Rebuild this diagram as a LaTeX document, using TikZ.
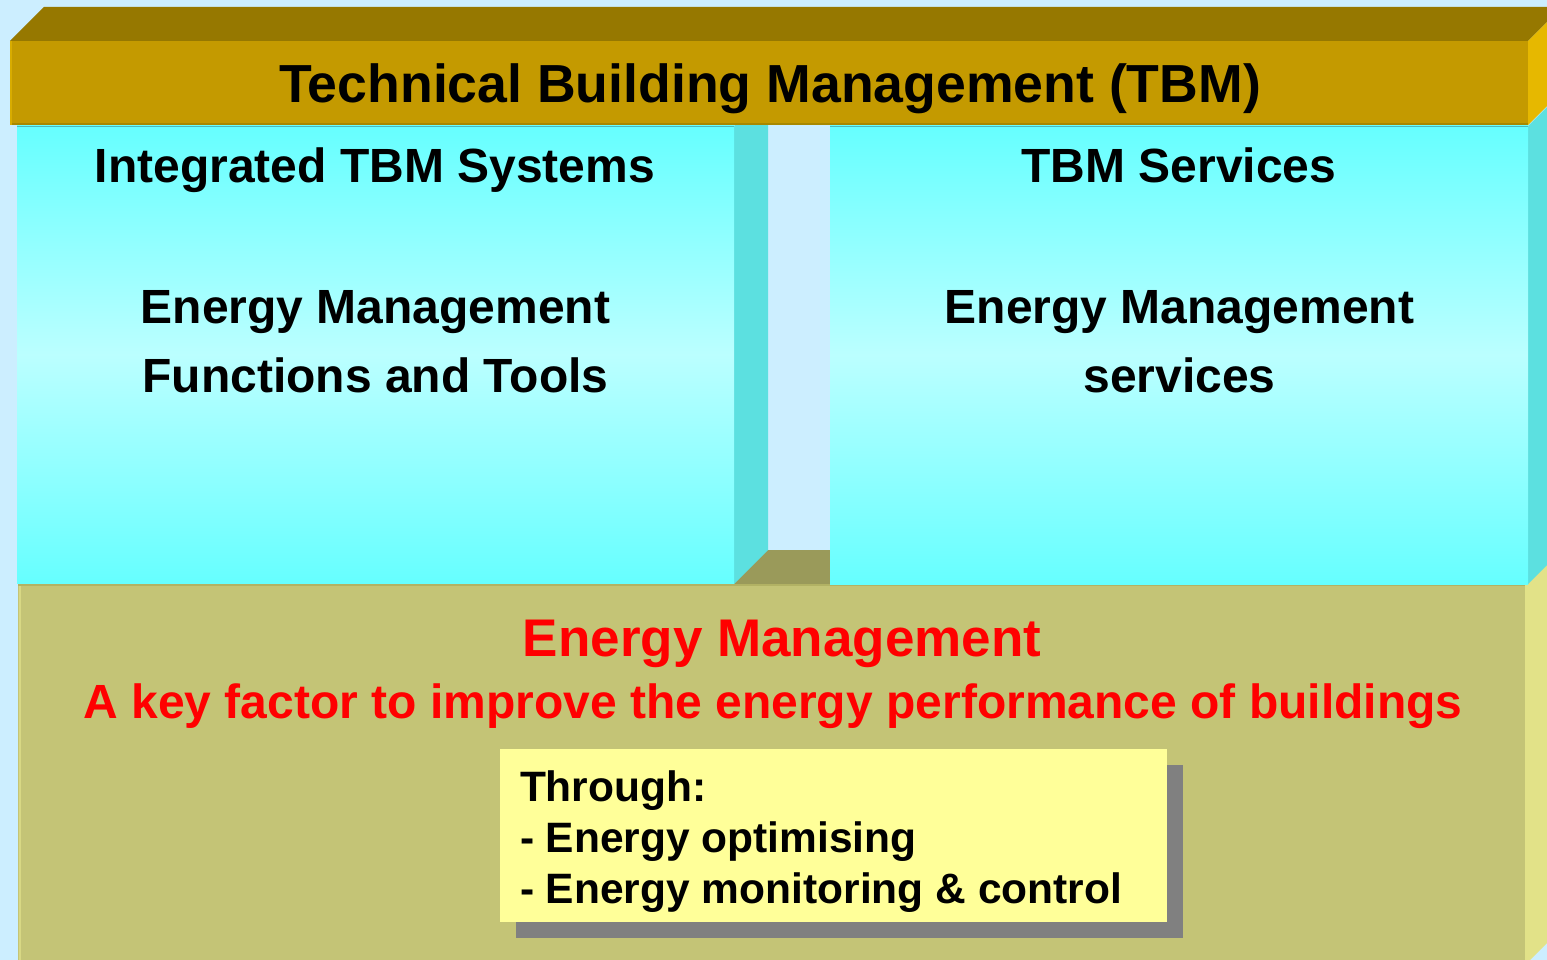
\documentclass[tikz,border=0pt]{standalone}
\usepackage{fontspec}
\setmainfont{Liberation Sans}
\definecolor{bgblue}{HTML}{CCEEFF}
\definecolor{goldfront}{HTML}{C49A00}
\definecolor{goldtop}{HTML}{967800}
\definecolor{goldside}{HTML}{E6B800}
\definecolor{goldedge}{HTML}{A88800}
\definecolor{goldlight}{HTML}{D8AC00}
\definecolor{cyanend}{HTML}{66FFFF}
\definecolor{cyanmid}{HTML}{BBFFFF}
\definecolor{cyanside}{HTML}{5CE0E0}
\definecolor{cyanedge}{HTML}{4FB8B8}
\definecolor{olivefront}{HTML}{C4C476}
\definecolor{olivetop}{HTML}{9A9A5A}
\definecolor{oliveside}{HTML}{E2E288}
\definecolor{oliveedge}{HTML}{B2B264}
\definecolor{olivelight}{HTML}{D8D884}
\definecolor{notefill}{HTML}{FFFF99}
\definecolor{noteshadow}{HTML}{808080}
\begin{document}
\begin{tikzpicture}[x=1pt,y=-1pt,
  every node/.style={inner sep=0pt, outer sep=0pt, font=\bfseries},
  titletext/.style={anchor=base, font=\bfseries\fontsize{53.6}{60}\selectfont},
  boxtext/.style={anchor=base, font=\bfseries\fontsize{48}{56}\selectfont},
  redbig/.style={anchor=base, text=red, font=\bfseries\fontsize{53}{60}\selectfont},
  redline/.style={anchor=base, text=red, font=\bfseries\fontsize{48}{56}\selectfont},
  notetext/.style={anchor=base west, font=\bfseries\fontsize{42.5}{50}\selectfont},
  cyanface/.style={top color=cyanend, bottom color=cyanend, middle color=cyanmid, draw=none}]
\useasboundingbox (0,0) rectangle (1547,960);
\fill[bgblue] (0,0) rectangle (1547,960);

% base block: top face, front face, right face
\fill[olivetop] (18,584) -- (52,550) -- (1559,550) -- (1525,584) -- cycle;
\fill[olivefront] (18,584) rectangle (1525,965);
\fill[oliveside] (1525,584) -- (1559,550) -- (1559,931) -- (1525,965) -- cycle;
\draw[olivelight, line width=2pt] (19.5,585) -- (19.5,965);
\draw[oliveedge, line width=1.5pt] (18,584.8) -- (1525,584.8);

% left column block
\fill[cyanside] (734,126) -- (768,92) -- (768,550) -- (734,584) -- cycle;
\shade[cyanface] (17,126) rectangle (734,583);

% right column block
\fill[cyanside] (1528,126) -- (1562,92) -- (1562,550) -- (1528,584) -- cycle;
\shade[cyanface] (830,126) rectangle (1528,584);
\draw[cyanedge, line width=1.2pt] (17,126.3) -- (734,126.3) (830,126.3) -- (1528,126.3);

% roof bar
\fill[goldtop] (10,41) -- (44,7) -- (1562,7) -- (1528,41) -- cycle;
\fill[goldfront] (10,41) rectangle (1528,125);
\fill[goldside] (1528,41) -- (1562,7) -- (1562,91) -- (1528,125) -- cycle;
\draw[goldedge, line width=1.5pt] (10,124.2) -- (1528,124.2);
\draw[goldlight, line width=1.5pt] (10.8,41) -- (10.8,125);

% note with drop shadow
\fill[noteshadow] (516,765) rectangle (1183,938);
\fill[notefill] (500,749) rectangle (1167,922);

% texts
\node[titletext] (title) at (770,103) {Technical Building Management (TBM)};

\node[boxtext] (lefthead) at (375,183) {Integrated TBM Systems};
\node[boxtext] (leftone) at (375.5,323) {Energy Management};
\node[boxtext] (lefttwo) at (375.5,392) {Functions and Tools};

\node[boxtext] (righthead) at (1179,183) {TBM Services};
\node[boxtext] (rightone) at (1179.5,323) {Energy Management};
\node[boxtext] (righttwo) at (1179.5,392) {services};

\node[redbig] (emhead) at (782,656) {Energy Management};
\node[redline] (emsub) at (773,718) {A key factor to improve the energy performance of buildings};

\node[notetext] (noteone) at (520,801) {Through:};
\node[notetext] (notetwo) at (520,852) {- Energy optimising};
\node[notetext] (notethree) at (520,903) {- Energy monitoring \& control};
\end{tikzpicture}
\end{document}
